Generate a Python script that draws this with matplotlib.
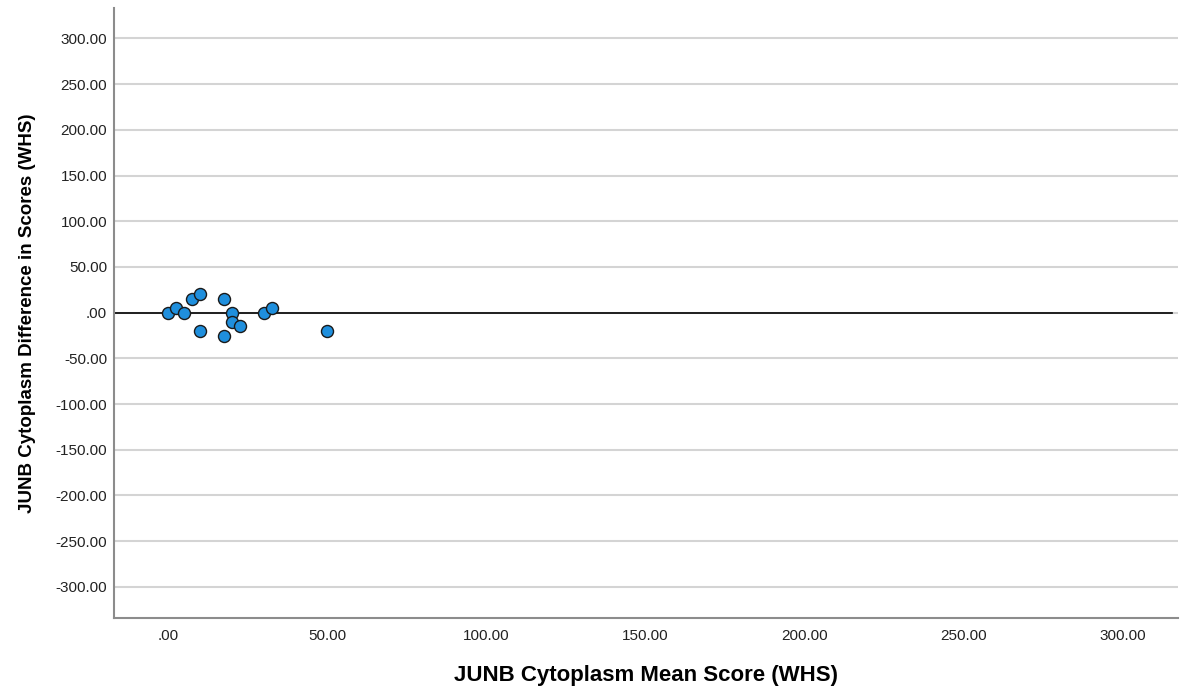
import matplotlib.pyplot as plt

# Mean and difference scores
mean_score = [0, 2.5, 5, 7.5, 10, 10, 17.5, 17.5, 20, 20, 22.5, 30, 32.5, 50]
diff_score = [0, 5, 0, 15, 20, -20, 15, -25, 0, -10, -15, 0, 5, -20]

x_ticks = [0, 50, 100, 150, 200, 250, 300]
y_ticks = [-300, -250, -200, -150, -100, -50, 0, 50, 100, 150, 200, 250, 300]


def fmt(v):
    s = f"{v:.2f}"
    return ".00" if v == 0 else s


plt.rcParams['font.family'] = ['Liberation Sans', 'DejaVu Sans']

fig = plt.figure(figsize=(11.81, 6.91), dpi=100)
ax = fig.add_axes([0.0965, 0.106, 0.901, 0.8824])

for y in y_ticks:
    ax.axhline(y, color='#d4d4d4', lw=1.5, zorder=0)

ax.plot([-17, 315.5], [0, 0], color='black', lw=1.2, zorder=1)
ax.scatter(mean_score, diff_score, s=75, color='#1f8fdd', edgecolors='#1a1a1a',
           linewidths=1.0, zorder=3)

ax.set_xlim(-17, 317.3)
ax.set_ylim(-333.8, 333.3)
ax.set_xticks(x_ticks)
ax.set_xticklabels([fmt(v) for v in x_ticks])
ax.set_yticks(y_ticks)
ax.set_yticklabels([fmt(v) for v in y_ticks])
ax.tick_params(length=0, labelsize=11, colors='#222222')
ax.tick_params(axis='y', pad=5)
ax.tick_params(axis='x', pad=8)

for side in ['top', 'right']:
    ax.spines[side].set_visible(False)
for side in ['left', 'bottom']:
    ax.spines[side].set_color('#8c8c8c')
    ax.spines[side].set_linewidth(1.5)

ax.set_xlabel('JUNB Cytoplasm Mean Score (WHS)', fontsize=16, fontweight='bold', labelpad=16)
ax.set_ylabel('JUNB Cytoplasm Difference in Scores (WHS)', fontsize=13.5, fontweight='bold', labelpad=14)

fig.savefig('out.png', dpi=100)
